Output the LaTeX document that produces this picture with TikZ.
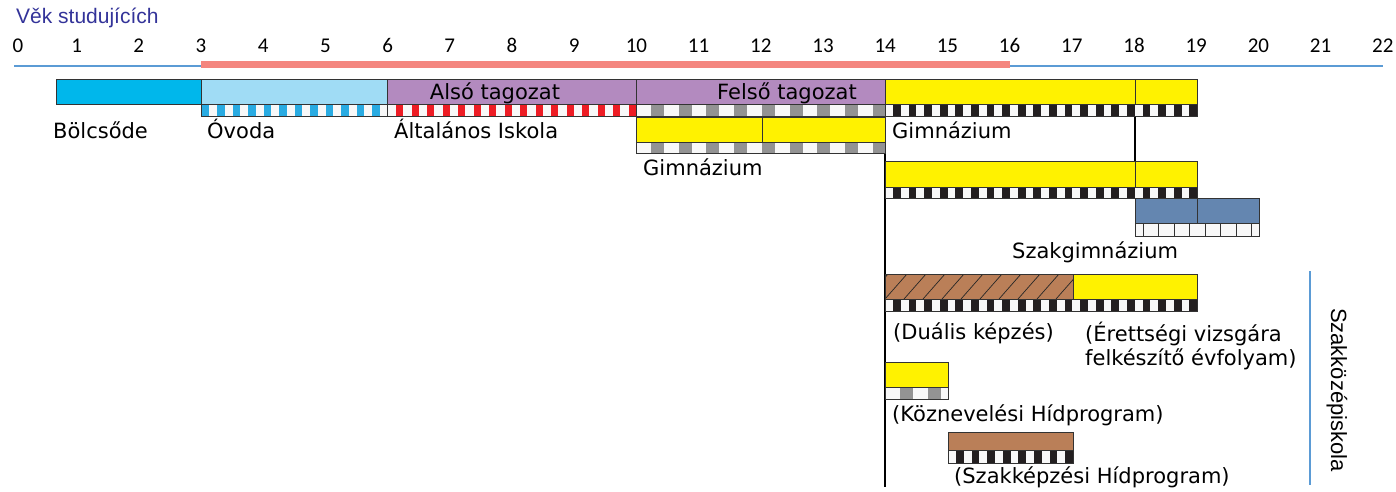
\documentclass[tikz,border=0pt]{standalone}
\usepackage{fontspec}
\setmainfont{DejaVu Sans}
\newfontfamily\numfont{Carlito}
\newfontfamily\arialfont{Liberation Sans}
\definecolor{cyanB}{HTML}{00B7EB}
\definecolor{lightB}{HTML}{A0DCF5}
\definecolor{ovodaS}{HTML}{29ABE2}
\definecolor{purp}{HTML}{B38ABF}
\definecolor{redS}{HTML}{ED1C24}
\definecolor{grayS}{HTML}{939393}
\definecolor{yel}{HTML}{FFF200}
\definecolor{blk}{HTML}{231F20}
\definecolor{steel}{HTML}{6486B0}
\definecolor{brown}{HTML}{BA7F58}
\definecolor{axisB}{HTML}{5B9BD5}
\definecolor{salmon}{HTML}{F4867F}
\definecolor{titleC}{HTML}{333399}
\definecolor{stripW}{HTML}{F8F8F8}
\tikzset{
  bord/.style={draw=black!80, line width=0.9pt},
  lbl/.style={inner sep=0pt, anchor=base west, font=\fontsize{21}{24}\selectfont},
  inlbl/.style={inner sep=0pt, anchor=base, font=\fontsize{21}{24}\selectfont},
  tick/.style={inner sep=0pt, anchor=base, font=\numfont\fontsize{21}{24}\selectfont},
  vline/.style={draw=black, line width=1.1pt},
}
% #1 x0, #2 x1, #3 ytop, #4 ybot, #5 colour, #6 period, #7 offset, #8 width
\newcommand{\mystripe}[8]{%
  \begin{scope}
    \clip (#1,#3) rectangle (#2,#4);
    \fill[stripW] (#1,#3) rectangle (#2,#4);
    \foreach \k in {0,...,40}{\fill[#5] ({#1+#7+\k*#6},#3) rectangle ++(#8,{#4-#3});}
  \end{scope}
  \draw[bord] (#1,#3) rectangle (#2,#4);
}
\newcommand{\mybar}[5]{\fill[#5] (#1,#3) rectangle (#2,#4); \draw[bord] (#1,#3) rectangle (#2,#4);}
\begin{document}
\begin{tikzpicture}[x=1pt,y=-1pt]
\useasboundingbox (0,0) rectangle (1396,491);
% title
\node[inner sep=0pt, anchor=base west, text=titleC, font=\arialfont\fontsize{21}{24}\selectfont] (title) at (16,23) {Věk studujících};
% ticks
\node[tick] (t0) at (18,52) {0};
\foreach \n in {1,...,22}{\node[tick] (t\n) at ({14.4+62.2*\n},52) {\n};}
% axis
\coordinate (axL) at (14,66);
\coordinate (axR) at (1383,66);
\draw[axisB, line width=1.6pt] (axL) -- (axR);
\coordinate (redL) at (201,64);
\coordinate (redR) at (1010,64);
\draw[salmon, line width=7pt] (redL) -- (redR);

% vertical connectors
\coordinate (v14a) at (885,116);
\coordinate (v14b) at (885,487);
\coordinate (v18a) at (1135,116);
\coordinate (v18b) at (1135,161);
\draw[vline] (v14a) -- (v14b);
\draw[vline] (v18a) -- (v18b);

% Row 1
\mybar{56}{201}{79}{104}{cyanB}
\mybar{201}{387}{79}{104}{lightB}
\mystripe{201}{387}{104}{116}{ovodaS}{15.5}{0.7}{7.3}
\mybar{387}{636}{79}{104}{purp}
\mystripe{387}{636}{104}{116}{redS}{15.5}{9}{7}
\mybar{636}{885}{79}{104}{purp}
\mystripe{636}{885}{104}{116}{grayS}{27.7}{15}{13}
\mybar{885}{1135}{79}{104}{yel}
\mybar{1135}{1197}{79}{104}{yel}
\mystripe{885}{1197}{104}{116}{blk}{15.6}{8}{7.8}
\node[inlbl] (also) at (495,99) {Alsó tagozat};
\node[inlbl] (felso) at (787,99) {Felső tagozat};
\node[lbl] (bolcs) at (53,138) {Bölcsőde};
\node[lbl] (ovoda) at (207,138) {Óvoda};
\node[lbl] (altal) at (394,138) {Általános Iskola};
\node[lbl] (gim1) at (892,138) {Gimnázium};

% Row 2
\mybar{636}{762}{117}{142}{yel}
\mybar{762}{885}{117}{142}{yel}
\mystripe{636}{885}{142}{153}{grayS}{27.7}{15}{13}
\node[lbl] (gim2) at (643,175) {Gimnázium};

% Row 3
\mybar{885}{1135}{161}{187}{yel}
\mybar{1135}{1197}{161}{187}{yel}
\mystripe{885}{1197}{187}{198}{blk}{15.6}{8}{7.8}

% Row 4
\mybar{1135}{1197}{198}{223}{steel}
\mybar{1197}{1259}{198}{223}{steel}
\fill[stripW] (1135,223) rectangle (1259,236);
\foreach \k in {0,...,7}{\draw[bord] ({1143+\k*15.5},223) -- ({1143+\k*15.5},236);}
\draw[bord] (1135,223) rectangle (1259,236);
\node[lbl] (szg) at (1012,258) {Szakgimnázium};

% Row 5
\fill[brown] (885,274) rectangle (1073,299);
\begin{scope}
  \clip (885,274) rectangle (1073,299);
  \foreach \k in {-2,...,10}{\draw[black!85, line width=0.7pt] ({885+\k*19},299) -- ++(22,-25);}
\end{scope}
\draw[bord] (885,274) rectangle (1073,299);
\mybar{1073}{1197}{274}{299}{yel}
\mystripe{885}{1197}{299}{311}{blk}{15.6}{8}{7.8}
\node[lbl] (dual) at (893,339) {(Duális képzés)};
\node[lbl, align=left, anchor=north west] (eret) at (1085,322) {(Érettségi vizsgára\\felkészítő évfolyam)};

% Row 6
\mybar{885}{948}{362}{387}{yel}
\mystripe{885}{948}{387}{399}{grayS}{27.7}{15}{13}
\node[lbl] (kozn) at (892,421) {(Köznevelési Hídprogram)};

% Row 7
\mybar{948}{1073}{432}{450}{brown}
\mystripe{948}{1073}{450}{463}{blk}{15.6}{8}{7.8}
\node[lbl] (szakk) at (954,483) {(Szakképzési Hídprogram)};

% Szakközépiskola
\coordinate (bl1) at (1310,271);
\coordinate (bl2) at (1310,485);
\draw[axisB, line width=2.2pt] (bl1) -- (bl2);
\node[inner sep=0pt, rotate=-90, font=\arialfont\fontsize{22}{24}\selectfont] (szk) at (1337,390) {Szakközépiskola};
\end{tikzpicture}
\end{document}
